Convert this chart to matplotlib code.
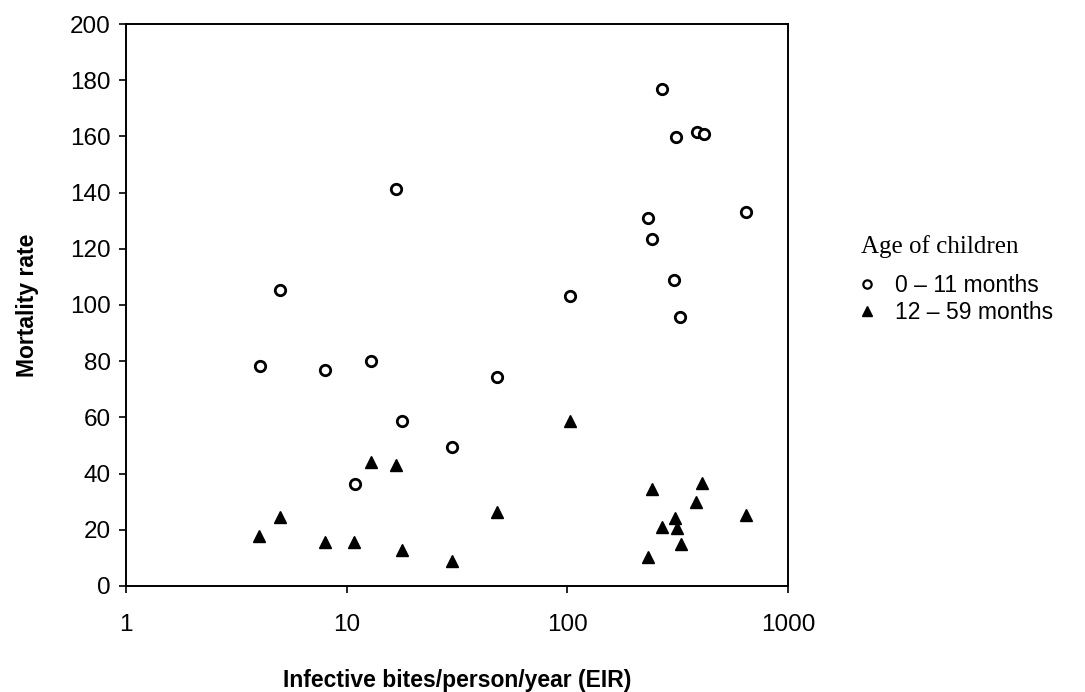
import matplotlib
matplotlib.use("Agg")
from matplotlib import pyplot as plt
from matplotlib.lines import Line2D

# infants 0-11 months
eir_infant = [4.05, 5.0, 8.0, 10.9, 12.9, 16.8, 17.9, 30.1, 47.8, 102.8,
              231, 242, 270, 306, 311, 325, 388, 416, 645]
mort_infant = [78.4, 105.3, 76.9, 36.2, 80.2, 141.3, 58.7, 49.5, 74.5, 103.3,
               131.1, 123.5, 176.7, 108.8, 159.9, 95.6, 161.7, 160.9, 133.2]

# children 12-59 months
eir_child = [4.02, 4.99, 7.96, 10.8, 12.9, 16.8, 17.9, 30.1, 47.8, 102.8,
             232, 242, 270, 307, 313, 327, 385, 410, 645]
mort_child = [17.8, 24.7, 15.8, 15.8, 44.2, 43.1, 12.8, 9.0, 26.4, 58.7,
              10.4, 34.4, 20.9, 24.1, 20.5, 14.8, 30.0, 36.5, 25.3]

y_ticks = list(range(0, 201, 20))
x_ticks = [1, 10, 100, 1000]
x_labels = ["1", "10", "100", "1000"]

plt.rcParams['font.family'] = ['Liberation Sans', 'DejaVu Sans']

fig = plt.figure(figsize=(10.85, 6.92), dpi=100)
ax = fig.add_axes([0.1161, 0.1532, 0.6101, 0.8121])

ax.plot(eir_infant, mort_infant, linestyle='none', marker='o', markersize=7.5,
        markerfacecolor='white', markeredgecolor='black', markeredgewidth=2)
ax.plot(eir_child, mort_child, linestyle='none', marker='^', markersize=8.5,
        markerfacecolor='black', markeredgecolor='black')

ax.set_xscale('log')
ax.set_xlim(1, 1000)
ax.set_ylim(0, 200)
ax.set_xticks(x_ticks)
ax.set_xticklabels(x_labels)
ax.minorticks_off()
ax.set_yticks(y_ticks)

for side in ax.spines.values():
    side.set_linewidth(1.4)

ax.tick_params(axis='y', direction='out', length=5, width=1.2, labelsize=17.5, pad=6)
ax.tick_params(axis='x', direction='out', length=5, width=1.2, labelsize=17.5, pad=15)

ax.set_ylabel("Mortality rate", fontsize=16.5, fontweight='bold', labelpad=22)
ax.set_xlabel("Infective bites/person/year (EIR)", fontsize=16.5, fontweight='bold', labelpad=24)

# legend: title drawn separately so its gap to the entries can be set
fig.text(0.794, 1 - 247 / 692, "Age of children", family='Liberation Serif',
         fontsize=18, ha='left', va='center')
handles = [
    Line2D([], [], linestyle='none', marker='o', markersize=6,
           markerfacecolor='white', markeredgecolor='black', markeredgewidth=1.6),
    Line2D([], [], linestyle='none', marker='^', markersize=6.5,
           markerfacecolor='black', markeredgecolor='black'),
]
leg = fig.legend(handles, ["0 \u2013 11 months", "12 \u2013 59 months"],
                 loc='upper left', bbox_to_anchor=(0.772, 0.634),
                 frameon=False, fontsize=16.5, handlelength=0.8, handletextpad=0.8,
                 labelspacing=0.2)

fig.savefig("out.png", dpi=100)
